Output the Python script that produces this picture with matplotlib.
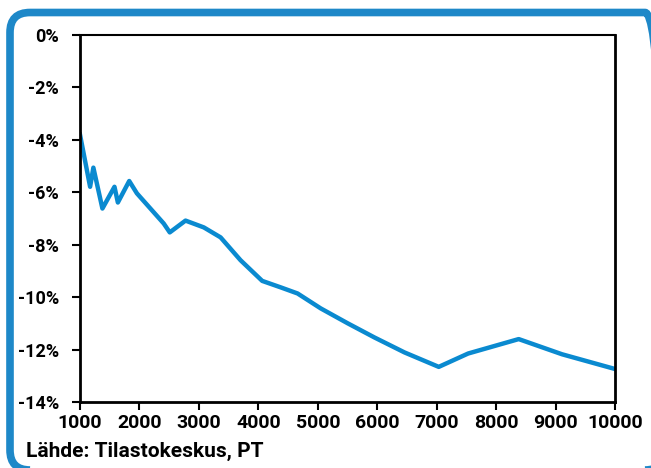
import matplotlib.pyplot as plt
from matplotlib.patches import FancyBboxPatch
from matplotlib.ticker import FuncFormatter

# values
size = [1000, 1170, 1225, 1377, 1580, 1637, 1828, 1957, 2408, 2510, 2775,
        3083, 3365, 3700, 4065, 4380, 4660, 5050, 5505, 5955, 6460, 7035,
        7530, 8380, 9110, 10030]
change = [-3.8, -5.79, -5.06, -6.62, -5.79, -6.39, -5.57, -6.04, -7.19, -7.53,
          -7.08, -7.34, -7.72, -8.59, -9.38, -9.63, -9.86, -10.43, -11.0,
          -11.54, -12.11, -12.66, -12.15, -11.6, -12.18, -12.76]
x_ticks = [1000, 2000, 3000, 4000, 5000, 6000, 7000, 8000, 9000, 10000]
y_ticks = [0, -2, -4, -6, -8, -10, -12, -14]
source = 'Lähde: Tilastokeskus, PT'

blue = '#0a8ad0'
plt.rcParams['font.family'] = ['Roboto', 'DejaVu Sans']
plt.rcParams['font.weight'] = 'bold'

fig = plt.figure(figsize=(6.51, 4.68), dpi=100)

# rounded blue frame around the chart (in inches, so the corners stay round)
frame = FancyBboxPatch((0.10, -0.02), 6.55, 4.575,
                       boxstyle='round,pad=0,rounding_size=0.2',
                       transform=fig.dpi_scale_trans, fill=False,
                       edgecolor='#1e88c8', linewidth=5.5, clip_on=False)
fig.patches.append(frame)

ax = fig.add_axes([80 / 651, 66 / 468, 535 / 651, 367 / 468])
ax.plot(size, change, color=blue, linewidth=3.2, solid_joinstyle='round')

ax.set_xlim(1000, 10000)
ax.set_ylim(-14, 0)
ax.set_xticks(x_ticks)
ax.set_yticks(y_ticks)
ax.yaxis.set_major_formatter(FuncFormatter(lambda v, p: f'{v:.0f}%'))
ax.tick_params(axis='x', labelsize=14, length=6, width=1.5, pad=3)
ax.tick_params(axis='y', labelsize=13, length=6, width=1.5, pad=9)
for lab in ax.get_xticklabels() + ax.get_yticklabels():
    lab.set_fontweight('bold')

for name in ['left', 'bottom', 'right']:
    ax.spines[name].set_linewidth(2)
ax.spines['top'].set_linewidth(1.5)

fig.text(26 / 651, 1 - 457 / 468, source, fontsize=15, fontweight='bold',
         va='baseline', ha='left')

plt.savefig('out.png', dpi=100)
plt.close()
